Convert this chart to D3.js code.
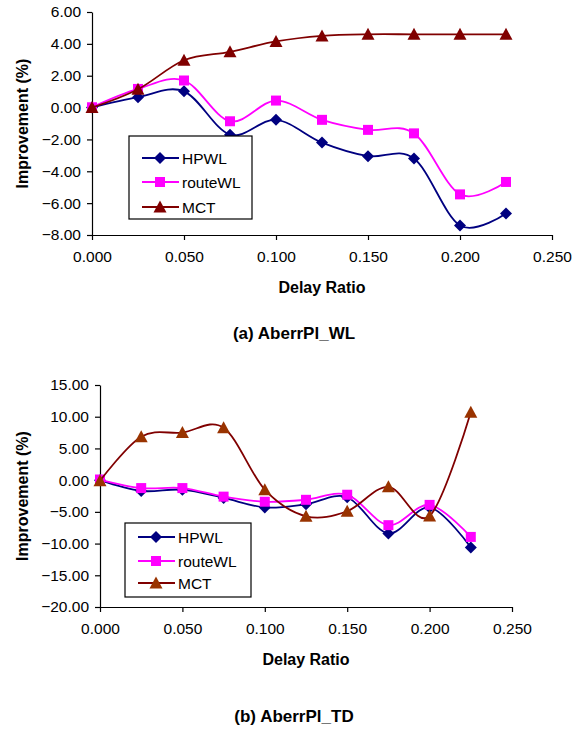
<!DOCTYPE html>
<html lang="en">
	<head>
		<meta charset="utf-8">
		<title>AberrPl improvement</title>
		<script type="text/javascript" src="https://d3js.org/d3.v7.min.js"></script>
		<style type="text/css">
            body{margin:0;background:#fff;font-family:"Liberation Sans",Arial,sans-serif;}
            .axis text{font-family:"Liberation Sans",Arial,sans-serif;font-size:15.5px;fill:#000;}
            .axis path,.axis line{stroke:#000;stroke-width:1.2px;}
            .title{font-weight:bold;font-size:16px;}
            .legendText{font-size:15.5px;}
		</style>
	</head>
	<body>
    <div id="chart1"></div>
		<script type="text/javascript">
            //x values shared by both panels
            var delayRatio = [0, 0.025, 0.05, 0.075, 0.1, 0.125, 0.15, 0.175, 0.2, 0.225]

            //panel (a) AberrPl_WL
            var wlHPWL    = [0, 0.65, 1.02, -1.7, -0.77, -2.2, -3.05, -3.2, -7.4, -6.65]
            var wlRouteWL = [0.02, 1.17, 1.7, -0.86, 0.44, -0.77, -1.4, -1.62, -5.45, -4.67]
            var wlMCT     = [0, 1.15, 2.97, 3.5, 4.15, 4.5, 4.6, 4.6, 4.6, 4.6]

            //panel (b) AberrPl_TD
            var tdHPWL    = [0, -1.7, -1.5, -2.8, -4.3, -3.8, -2.7, -8.4, -4.3, -10.6]
            var tdRouteWL = [0.1, -1.25, -1.25, -2.6, -3.4, -3.1, -2.3, -7.1, -3.9, -8.95]
            var tdMCT     = [-0.1, 6.85, 7.5, 8.25, -1.5, -5.7, -4.9, -1.05, -5.65, 10.7]

            //tick labels
            var xTicks = [0, 0.05, 0.1, 0.15, 0.2, 0.25]
            var wlTicks = [-8, -6, -4, -2, 0, 2, 4, 6]
            var tdTicks = [-20, -15, -10, -5, 0, 5, 10, 15]
            var seriesNames = ["HPWL", "routeWL", "MCT"]

            var svg = d3.select("#chart1")
                        .append("svg")
                        .attr("width", 573)
                        .attr("height", 733)

            //marker shapes, drawn around 0,0
            function markerPath(shape){
                if(shape == "diamond"){ return "M0,-6L6,0L0,6L-6,0Z" }
                if(shape == "square"){ return "M-5,-5H5V5H-5Z" }
                return "M0,-6.5L6.5,5.5H-6.5Z"
            }

            function drawChart(opt){
                var g = svg.append("g")
                var xScale = d3.scaleLinear().domain([0, 0.25]).range([opt.left, opt.right])
                var yScale = d3.scaleLinear().domain(opt.yDomain).range([opt.bottom, opt.top])

                //y axis
                g.append("g")
                    .attr("class", "axis")
                    .attr("transform", "translate(" + opt.left + ",0)")
                    .call(d3.axisLeft(yScale).tickValues(opt.yTicks).tickFormat(d3.format(".2f")).tickSize(5).tickSizeOuter(0).tickPadding(6))

                //x axis
                g.append("g")
                    .attr("class", "axis")
                    .attr("transform", "translate(0," + opt.bottom + ")")
                    .call(d3.axisBottom(xScale).tickValues(xTicks).tickFormat(d3.format(".3f")).tickSize(5).tickSizeOuter(0).tickPadding(11))

                //axis titles
                g.append("text")
                    .attr("class", "title")
                    .attr("text-anchor", "middle")
                    .attr("x", (opt.left + opt.right) / 2)
                    .attr("y", opt.bottom + 58)
                    .text("Delay Ratio")
                g.append("text")
                    .attr("class", "title")
                    .attr("text-anchor", "middle")
                    .attr("transform", "translate(28," + (opt.top + opt.bottom) / 2 + ") rotate(-90)")
                    .text("Improvement (%)")

                //smoothed lines like excel
                var line = d3.line()
                    .x(function(d){ return xScale(d[0]) })
                    .y(function(d){ return yScale(d[1]) })
                    .curve(d3.curveCatmullRom.alpha(0))

                opt.series.forEach(function(s){
                    var pts = delayRatio.map(function(x, i){ return [x, s.values[i]] })
                    g.append("path")
                        .attr("d", line(pts))
                        .attr("fill", "none")
                        .attr("stroke", s.line)
                        .attr("stroke-width", 1.8)
                    g.selectAll(".m" + s.shape)
                        .data(pts)
                        .enter()
                        .append("path")
                        .attr("class", "m" + s.shape)
                        .attr("d", markerPath(s.shape))
                        .attr("transform", function(d){ return "translate(" + xScale(d[0]) + "," + yScale(d[1]) + ")" })
                        .attr("fill", s.marker)
                })

                //legend box
                var lg = opt.legend
                g.append("rect")
                    .attr("x", lg.x).attr("y", lg.y)
                    .attr("width", lg.w).attr("height", lg.h)
                    .attr("fill", "#fff")
                    .attr("stroke", "#000")
                    .attr("stroke-width", 1.2)
                opt.series.forEach(function(s, i){
                    var cy = lg.rows[i]
                    g.append("line")
                        .attr("x1", lg.x + 13).attr("x2", lg.x + 50)
                        .attr("y1", cy).attr("y2", cy)
                        .attr("stroke", s.line)
                        .attr("stroke-width", 1.8)
                    g.append("path")
                        .attr("d", markerPath(s.shape))
                        .attr("transform", "translate(" + (lg.x + 31) + "," + cy + ")")
                        .attr("fill", s.marker)
                    g.append("text")
                        .attr("class", "legendText")
                        .attr("x", lg.x + 53)
                        .attr("y", cy + 5.5)
                        .text(seriesNames[i])
                })

                //caption under the panel
                svg.append("text")
                    .attr("class", "title")
                    .attr("text-anchor", "middle")
                    .attr("x", 294)
                    .attr("y", opt.captionY)
                    .style("font-size", "17px")
                    .text(opt.caption)
            }

            drawChart({
                left: 92, right: 552, top: 12, bottom: 235,
                yDomain: [-8, 6], yTicks: wlTicks,
                series: [
                    {values: wlHPWL, line: "#000080", marker: "#000080", shape: "diamond"},
                    {values: wlRouteWL, line: "#ff00ff", marker: "#ff00ff", shape: "square"},
                    {values: wlMCT, line: "#800000", marker: "#800000", shape: "triangle"}
                ],
                legend: {x: 129, y: 136, w: 123, h: 83, rows: [158, 182, 207]},
                caption: "(a) AberrPl_WL", captionY: 339
            })

            drawChart({
                left: 100, right: 512, top: 385, bottom: 607,
                yDomain: [-20, 15], yTicks: tdTicks,
                series: [
                    {values: tdHPWL, line: "#000080", marker: "#000080", shape: "diamond"},
                    {values: tdRouteWL, line: "#ff00ff", marker: "#ff00ff", shape: "square"},
                    {values: tdMCT, line: "#800000", marker: "#993300", shape: "triangle"}
                ],
                legend: {x: 125, y: 523, w: 126, h: 74, rows: [537, 561, 583]},
                caption: "(b) AberrPl_TD", captionY: 722
            })
		</script>
	</body>
</html>
